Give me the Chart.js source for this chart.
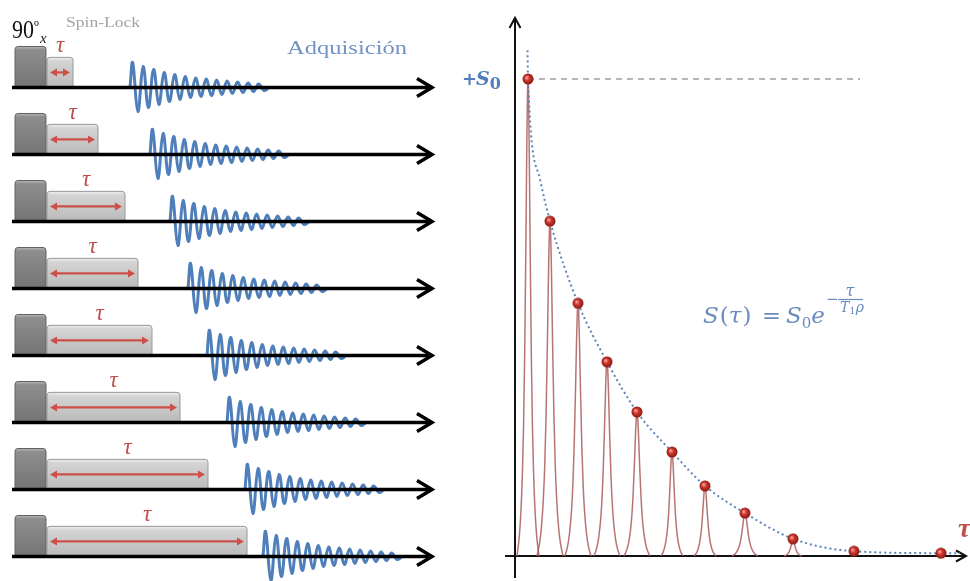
<!DOCTYPE html>
<html>
<head>
<meta charset="utf-8">
<script src="https://cdn.jsdelivr.net/npm/chart.js@4.4.1/dist/chart.umd.min.js"></script>
<style>
  html, body { margin: 0; padding: 0; background: #fff; }
  canvas { display: block; }
</style>
</head>
<body>
<canvas id="chart" width="970" height="581"></canvas>
<script>
// left panel: one pulse sequence per row, time in arbitrary units
const rowTau = [13, 25.5, 39, 45.5, 52.5, 66.5, 80.5, 100];       // spin-lock length
const fidStart = [59, 69, 79, 88, 97.5, 107.5, 116.5, 125.5];      // start of acquisition
const fidEnvelope = [1, 0.96, 0.84, 0.8, 0.72, 0.68, 0.6, 0.56, 0.52, 0.48, 0.44, 0.4, 0.38,
                     0.36, 0.34, 0.32, 0.3, 0.28, 0.26, 0.24, 0.22, 0.2, 0.18, 0.16, 0.14, 0.12];
const pulseStart = 1.5, pulseEnd = 17, spinStart = 17.5, axisEnd = 210;

// right panel: signal after each spin-lock time
const dotTau = [2.6, 7.0, 12.6, 18.4, 24.4, 31.4, 38.0, 46.0, 55.6, 67.8, 85.2];
const dotS = [1.0, 0.702, 0.530, 0.407, 0.302, 0.218, 0.147, 0.090, 0.036, 0.010, 0.006];
const peakWidth = [2.2, 2.6, 2.6, 2.6, 2.6, 2.2, 2.2, 2.6, 1.8];
const curveTau = [2.5, 2.6, 5.0, 7.0, 12.6, 18.4, 24.4, 31.4, 38.0, 46.0, 55.6, 67.8, 85.2, 89.0];
const curveS = [1.06, 1.0, 0.79, 0.702, 0.530, 0.407, 0.302, 0.218, 0.147, 0.090, 0.036, 0.010, 0.006, 0.006];
const peakShapeDx = [-1, -0.8, -0.65, -0.5, -0.4, -0.3, -0.2, -0.15, -0.1, -0.05, 0,
                     0.05, 0.1, 0.15, 0.2, 0.3, 0.4, 0.5, 0.65, 0.8, 1];
const peakShapeDy = [0, 0.039, 0.09, 0.179, 0.276, 0.424, 0.636, 0.759, 0.878, 0.967, 1,
                     0.967, 0.878, 0.759, 0.636, 0.424, 0.276, 0.179, 0.09, 0.039, 0];
const dashedTo = 69;

// layout (pixels)
const W = 970, H = 581;
const left = { x0: 12, unit: 2, row0: 87.5, rowGap: 67 };
const right = { x0: 515, unit: 5, y0: 556, full: 477 };
const fidAmp = 0.373, fidHalfPeriod = 2.625;
const pulseH = 0.612, spinH = 0.45;

const blue = '#5b84b8';
const red = '#c0504d';

// sphere marker for the data points
const dot = document.createElement('canvas');
dot.width = 12; dot.height = 12;
(function () {
  const c = dot.getContext('2d');
  const g = c.createRadialGradient(4.5, 4.5, 0.5, 6, 6, 6);
  g.addColorStop(0, '#f3a49c');
  g.addColorStop(0.35, '#d23a30');
  g.addColorStop(1, '#7d1410');
  c.fillStyle = g;
  c.beginPath(); c.arc(6, 6, 5.5, 0, Math.PI * 2); c.fill();
})();

const datasets = [];

datasets.push({
  data: dotTau.map((t, i) => ({ x: t, y: dotS[i] })),
  xAxisID: 'x', yAxisID: 'y',
  pointStyle: dot, pointRadius: 6, showLine: false
});

datasets.push({
  data: curveTau.map((t, i) => ({ x: t, y: curveS[i] })),
  xAxisID: 'x', yAxisID: 'y', showLine: true, pointRadius: 0,
  borderColor: blue, borderWidth: 2, borderDash: [2, 3],
  cubicInterpolationMode: 'monotone'
});

datasets.push({
  data: [{ x: dotTau[0], y: dotS[0] }, { x: dashedTo, y: dotS[0] }],
  xAxisID: 'x', yAxisID: 'y', showLine: true, pointRadius: 0,
  borderColor: '#6e6e6e', borderWidth: 1.2, borderDash: [6, 5]
});

peakWidth.forEach((w, i) => {
  datasets.push({
    data: peakShapeDx.map((d, j) => ({ x: dotTau[i] + d * w, y: peakShapeDy[j] * dotS[i] })),
    xAxisID: 'x', yAxisID: 'y', showLine: true, pointRadius: 0,
    borderColor: 'rgba(172, 92, 90, 0.85)', borderWidth: 1.5,
    cubicInterpolationMode: 'monotone'
  });
});

fidStart.forEach((t0, r) => {
  const pts = [{ x: t0, y: r }];
  fidEnvelope.forEach((a, k) => {
    pts.push({ x: t0 + (k + 0.5) * fidHalfPeriod, y: r + (k % 2 ? 1 : -1) * a * fidAmp });
  });
  pts.push({ x: t0 + (fidEnvelope.length + 0.5) * fidHalfPeriod, y: r });
  datasets.push({
    data: pts, xAxisID: 'xL', yAxisID: 'yL', showLine: true, pointRadius: 0,
    borderColor: '#4f7fbb', borderWidth: 3, tension: 0.4
  });
});

function txt(ctx, s, x, y, font, color, width, align) {
  ctx.save();
  ctx.font = font;
  ctx.fillStyle = color;
  ctx.textBaseline = 'alphabetic';
  const m = ctx.measureText(s).width;
  const sx = width ? width / m : 1;
  ctx.translate(x, y);
  ctx.scale(sx, 1);
  ctx.textAlign = align || 'left';
  ctx.fillText(s, 0, 0);
  ctx.restore();
  return x + m * sx;
}

function chevron(ctx, tipX, tipY, dx, dy, vertical) {
  ctx.beginPath();
  if (vertical) {
    ctx.moveTo(tipX - dx, tipY + dy); ctx.lineTo(tipX, tipY); ctx.lineTo(tipX + dx, tipY + dy);
  } else {
    ctx.moveTo(tipX - dx, tipY - dy); ctx.lineTo(tipX, tipY); ctx.lineTo(tipX - dx, tipY + dy);
  }
  ctx.stroke();
}

function box(ctx, x1, y1, x2, y2, stops, stroke) {
  const g = ctx.createLinearGradient(0, y1, 0, y2);
  stops.forEach(s => g.addColorStop(s[0], s[1]));
  ctx.fillStyle = g;
  ctx.strokeStyle = stroke;
  ctx.lineWidth = 1;
  ctx.beginPath();
  ctx.roundRect(x1, y1, x2 - x1, y2 - y1, [3, 3, 0, 0]);
  ctx.fill();
  ctx.stroke();
}

const diagram = {
  id: 'diagram',
  beforeDatasetsDraw(chart) {
    const ctx = chart.ctx;
    const xL = chart.scales.xL, yL = chart.scales.yL;
    const x = chart.scales.x, y = chart.scales.y;
    ctx.save();
    rowTau.forEach((tau, r) => {
      const base = yL.getPixelForValue(r);
      const px1 = xL.getPixelForValue(pulseStart), px2 = xL.getPixelForValue(pulseEnd);
      const sx1 = xL.getPixelForValue(spinStart), sx2 = xL.getPixelForValue(spinStart + tau);
      const pTop = yL.getPixelForValue(r - pulseH), sTop = yL.getPixelForValue(r - spinH);
      box(ctx, sx1, sTop, sx2, base, [[0, '#f0f0f0'], [0.12, '#d4d4d4'], [1, '#bababa']], '#989898');
      box(ctx, px1, pTop, px2, base, [[0, '#b8b8b8'], [0.08, '#8e8e8e'], [1, '#747474']], '#626262');
      // tau double arrow
      const ay = yL.getPixelForValue(r - spinH * 0.5);
      const a1 = sx1 + 3, a2 = sx2 - 3;
      ctx.strokeStyle = '#cd4f4a'; ctx.fillStyle = '#cd4f4a'; ctx.lineWidth = 2.2;
      ctx.beginPath(); ctx.moveTo(a1 + 5, ay); ctx.lineTo(a2 - 5, ay); ctx.stroke();
      ctx.beginPath(); ctx.moveTo(a1, ay); ctx.lineTo(a1 + 7, ay - 4); ctx.lineTo(a1 + 7, ay + 4); ctx.closePath(); ctx.fill();
      ctx.beginPath(); ctx.moveTo(a2, ay); ctx.lineTo(a2 - 7, ay - 4); ctx.lineTo(a2 - 7, ay + 4); ctx.closePath(); ctx.fill();
      txt(ctx, 'τ', (sx1 + sx2) / 2, sTop - 5, 'italic 23px "Liberation Serif"', red, null, 'center');
    });
    // right axes
    ctx.strokeStyle = '#111'; ctx.lineWidth = 2;
    const ax = x.getPixelForValue(0), ay0 = y.getPixelForValue(0);
    const yTop = y.getPixelForValue(1.128), yBot = y.getPixelForValue(-0.046);
    const xL0 = x.getPixelForValue(-2), xR = x.getPixelForValue(90.2);
    ctx.beginPath(); ctx.moveTo(ax, yBot); ctx.lineTo(ax, yTop); ctx.stroke();
    ctx.beginPath(); ctx.moveTo(xL0, ay0); ctx.lineTo(xR, ay0); ctx.stroke();
    ctx.lineJoin = 'miter';
    chevron(ctx, ax, yTop, 5.5, 10, true);
    chevron(ctx, xR, ay0, 10, 5.5, false);
    ctx.restore();
  },
  afterDatasetsDraw(chart) {
    const ctx = chart.ctx;
    const xL = chart.scales.xL, yL = chart.scales.yL;
    ctx.save();
    ctx.strokeStyle = '#000'; ctx.lineWidth = 3.5; ctx.lineJoin = 'miter';
    rowTau.forEach((tau, r) => {
      const base = yL.getPixelForValue(r);
      const x1 = xL.getPixelForValue(0), x2 = xL.getPixelForValue(axisEnd);
      ctx.beginPath(); ctx.moveTo(x1, base); ctx.lineTo(x2 - 2, base); ctx.stroke();
      chevron(ctx, x2, base, 15, 9, false);
    });
    ctx.restore();
  },
  afterDraw(chart) {
    const ctx = chart.ctx;
    // left labels
    txt(ctx, '90', 12, 38, '25px "Liberation Serif"', '#111', 22);
    txt(ctx, 'º', 34, 32, '16px "Liberation Serif"', '#111');
    txt(ctx, 'x', 40, 43, 'italic 15px "Liberation Serif"', '#222');
    txt(ctx, 'Spin-Lock', 66, 27, '14px "Liberation Serif"', '#a3a3a3', 74);
    txt(ctx, 'Adquisición', 287, 54, '19px "Liberation Serif"', '#7293c3', 120);
    // right labels
    const sc = '#4f7dbb';
    txt(ctx, '+', 462, 85, 'bold 18px "DejaVu Sans"', sc);
    let sx = txt(ctx, 'S', 476, 85, 'bold italic 19px "DejaVu Serif"', sc);
    txt(ctx, '0', sx, 89, 'bold 16px "DejaVu Serif"', sc);
    txt(ctx, 'τ', 958, 537, 'bold italic 28px "Liberation Serif"', red);
    // formula
    const fc = '#6a8bbd';
    const it = 'italic 23px "DejaVu Serif"', up = '23px "DejaVu Serif"';
    let fx = 703;
    fx = txt(ctx, 'S', fx, 323, it, fc);
    fx = txt(ctx, '(', fx + 1, 323, up, fc);
    fx = txt(ctx, 'τ', fx, 323, it, fc);
    fx = txt(ctx, ')', fx + 1, 323, up, fc);
    txt(ctx, '=', 762, 323, up, fc, 19);
    fx = txt(ctx, 'S', 786, 323, it, fc);
    fx = txt(ctx, '0', fx, 328, '15px "DejaVu Serif"', fc);
    fx = txt(ctx, 'e', fx, 323, it, fc);
    txt(ctx, '−', 826, 304, '15px "DejaVu Serif"', fc);
    txt(ctx, 'τ', 850, 296, 'italic 16px "DejaVu Serif"', fc, null, 'center');
    ctx.save();
    ctx.strokeStyle = fc; ctx.lineWidth = 1.2;
    ctx.beginPath(); ctx.moveTo(838, 299.5); ctx.lineTo(863, 299.5); ctx.stroke();
    ctx.restore();
    fx = txt(ctx, 'T', 840, 312, 'italic 14px "DejaVu Serif"', fc);
    fx = txt(ctx, '1', fx, 314, '10px "DejaVu Serif"', fc);
    txt(ctx, 'ρ', fx, 312, 'italic 14px "DejaVu Serif"', fc);
  }
};

new Chart(document.getElementById('chart'), {
  type: 'scatter',
  data: { datasets: datasets },
  options: {
    responsive: false,
    animation: false,
    layout: { padding: 0, autoPadding: false },
    plugins: { legend: { display: false }, tooltip: { enabled: false } },
    scales: {
      xL: { type: 'linear', display: false, min: -left.x0 / left.unit, max: (W - left.x0) / left.unit },
      yL: { type: 'linear', display: false, reverse: true,
            min: -left.row0 / left.rowGap, max: (H - left.row0) / left.rowGap },
      x: { type: 'linear', display: false, min: -right.x0 / right.unit, max: (W - right.x0) / right.unit },
      y: { type: 'linear', display: false,
           min: -(H - right.y0) / right.full, max: right.y0 / right.full }
    }
  },
  plugins: [diagram]
});
</script>
</body>
</html>
